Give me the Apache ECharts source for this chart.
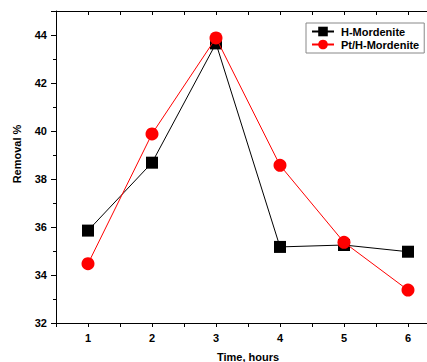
<!DOCTYPE html>
<html>
<head>
<meta charset="utf-8">
<script src="https://cdn.jsdelivr.net/npm/echarts@6/dist/echarts.min.js"></script>
<style>
  html, body { margin: 0; padding: 0; background: #fff; }
  #chart { width: 427px; height: 362px; }
</style>
</head>
<body>
<div id="chart"></div>
<script>
const hours = [1, 2, 3, 4, 5, 6]
const hMordenite = [35.85, 38.68, 43.65, 35.17, 35.25, 34.97]
const ptHMordenite = [34.47, 39.88, 43.88, 38.57, 35.36, 33.37]
const seriesNames = ['H-Mordenite', 'Pt/H-Mordenite']

const toPairs = (xs, ys) => xs.map((x, i) => [x, ys[i]])

const labelFont = { fontFamily: 'Arial, "Liberation Sans", sans-serif', fontWeight: 'bold', fontSize: 11, color: '#000' }

const chart = echarts.init(document.getElementById('chart'), null, { renderer: 'svg' })

chart.setOption({
  animation: false,
  backgroundColor: '#fff',
  // plot runs past the right edge of the picture
  grid: { left: 56, top: 11, width: 384, height: 312, outerBoundsMode: 'none', containLabel: false },
  legend: {
    orient: 'vertical',
    left: 306,
    top: 23,
    padding: [3, 5, 3, 5],
    borderColor: '#888',
    borderWidth: 1,
    itemGap: 2,
    itemWidth: 22,
    itemHeight: 12,
    data: seriesNames,
    textStyle: { ...labelFont, padding: [0, 0, 0, 2] }
  },
  xAxis: [
    {
      type: 'value',
      min: 0.5,
      max: 6.5,
      interval: 0.5,
      name: 'Time, hours',
      nameLocation: 'middle',
      nameGap: 28,
      nameTextStyle: labelFont,
      axisLine: { lineStyle: { color: '#000', width: 1 } },
      axisTick: { inside: false, length: 4, lineStyle: { color: '#000' } },
      axisLabel: {
        ...labelFont,
        margin: 9,
        formatter: (v) => (Number.isInteger(v) && v >= 1 && v <= 6 ? String(v) : '')
      },
      splitLine: { show: false }
    },
    {
      type: 'value',
      position: 'top',
      min: 0.5,
      max: 6.5,
      interval: 0.5,
      axisLine: { lineStyle: { color: '#000', width: 1 } },
      axisTick: { inside: true, length: 4, lineStyle: { color: '#000' } },
      axisLabel: { show: false },
      splitLine: { show: false }
    }
  ],
  yAxis: {
    type: 'value',
    min: 32,
    max: 45,
    interval: 2,
    name: 'Removal %',
    nameLocation: 'middle',
    nameGap: 34,
    nameTextStyle: { ...labelFont, padding: [0, 0, 0, 26] },
    axisLine: { show: true, lineStyle: { color: '#000', width: 1 } },
    axisTick: { show: true, length: 5, lineStyle: { color: '#000' } },
    minorTick: { show: true, splitNumber: 2, length: 3, lineStyle: { color: '#000' } },
    axisLabel: {
      ...labelFont,
      margin: 9,
      formatter: (v) => (v % 2 === 0 ? String(v) : '')
    },
    splitLine: { show: false }
  },
  series: [
    {
      name: seriesNames[0],
      type: 'line',
      data: toPairs(hours, hMordenite),
      symbol: 'rect',
      symbolSize: 12,
      color: '#000',
      lineStyle: { width: 1, color: '#000' },
      itemStyle: { color: '#000' },
      z: 2
    },
    {
      name: seriesNames[1],
      type: 'line',
      data: toPairs(hours, ptHMordenite),
      symbol: 'circle',
      symbolSize: 13,
      color: '#ff0000',
      lineStyle: { width: 1, color: '#ff0000' },
      itemStyle: { color: '#ff0000' },
      z: 3
    }
  ]
})
</script>
</body>
</html>
